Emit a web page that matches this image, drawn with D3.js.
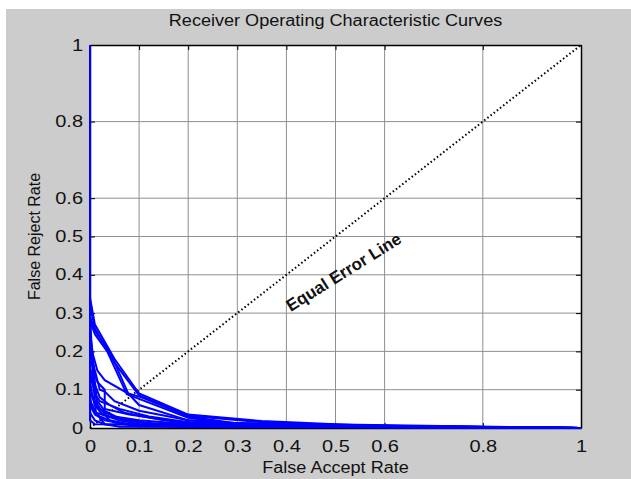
<!DOCTYPE html>
<html>
<head>
<meta charset="utf-8">
<script src="https://cdn.jsdelivr.net/npm/d3@7"></script>
<style>
  body { margin: 0; background: #fff; }
  text { font-family: Arial, "Liberation Sans", sans-serif; fill: #111; }
</style>
</head>
<body>
<svg width="631" height="479"></svg>
<script>
// tick values
var xTicks = [0, 0.1, 0.2, 0.3, 0.4, 0.5, 0.6, 0.8, 1];
var yTicks = [0, 0.1, 0.2, 0.3, 0.4, 0.5, 0.6, 0.8, 1];

// ROC curves, each a list of [false accept rate, false reject rate]
var curve1 = [[0, 1], [0, 0.34], [0.01, 0.27], [0.05, 0.18], [0.1, 0.09], [0.2, 0.035], [0.35, 0.018], [0.5, 0.01], [0.65, 0.002], [1, 0]];
var curve2 = [[0, 1], [0, 0.32], [0.01, 0.26], [0.05, 0.17], [0.1, 0.085], [0.2, 0.032], [0.35, 0.015], [0.5, 0.008], [0.6, 0.003], [1, 0]];
var curve3 = [[0, 1], [0, 0.29], [0.012, 0.25], [0.04, 0.2], [0.078, 0.09], [0.105, 0.08], [0.2, 0.03], [0.3, 0.012], [0.5, 0.004], [1, 0]];
var curve4 = [[0, 1], [0, 0.28], [0.01, 0.245], [0.035, 0.2], [0.075, 0.088], [0.1, 0.076], [0.2, 0.027], [0.3, 0.01], [1, 0]];
var curve5 = [[0, 1], [0, 0.22], [0.015, 0.15], [0.03, 0.125], [0.078, 0.09], [0.1, 0.06], [0.2, 0.02], [0.3, 0.008], [1, 0]];
var curve6 = [[0, 1], [0, 0.2], [0.02, 0.1], [0.03, 0.095], [0.05, 0.07], [0.1, 0.045], [0.2, 0.02], [0.4, 0.005], [1, 0]];
var curve7 = [[0, 1], [0, 0.18], [0.015, 0.12], [0.03, 0.1], [0.03, 0.05], [0.08, 0.035], [0.2, 0.012], [1, 0]];
var curve8 = [[0, 1], [0, 0.15], [0.01, 0.09], [0.02, 0.07], [0.06, 0.05], [0.12, 0.03], [0.2, 0.015], [1, 0]];
var curve9 = [[0, 1], [0, 0.12], [0.005, 0.08], [0.02, 0.05], [0.05, 0.03], [0.1, 0.02], [0.2, 0.01], [1, 0]];
var curve10 = [[0, 1], [0, 0.1], [0.01, 0.06], [0.03, 0.04], [0.07, 0.02], [0.15, 0.008], [1, 0]];
var curve11 = [[0, 1], [0, 0.08], [0.005, 0.05], [0.02, 0.03], [0.05, 0.015], [0.1, 0.005], [1, 0]];
var curve12 = [[0, 1], [0, 0.06], [0.01, 0.035], [0.03, 0.02], [0.08, 0.008], [1, 0]];
var curve13 = [[0, 1], [0, 0.25], [0.005, 0.2], [0.01, 0.12], [0.015, 0.06], [0.04, 0.02], [0.1, 0.005], [1, 0]];
var curve14 = [[0, 1], [0, 0.3], [0.003, 0.22], [0.008, 0.1], [0.012, 0.04], [0.03, 0.01], [1, 0]];
var curve15 = [[0, 1], [0, 0.16], [0.005, 0.13], [0.02, 0.08], [0.04, 0.06], [0.07, 0.04], [0.15, 0.02], [0.3, 0.005], [1, 0]];
var curve16 = [[0, 1], [0, 0.04], [0.01, 0.02], [0.03, 0.01], [0.06, 0.003], [1, 0]];
var curve17 = [[0, 1], [0, 0.02], [0.01, 0.01], [1, 0]];
var curve18 = [[0, 1], [0, 0.14], [0.008, 0.1], [0.015, 0.07], [0.03, 0.045], [0.06, 0.025], [0.12, 0.012], [1, 0]];
var curve19 = [[0, 1], [0, 0.11], [0.004, 0.09], [0.01, 0.06], [0.025, 0.035], [0.06, 0.02], [0.1, 0.01], [1, 0]];
var curve20 = [[0, 1], [0, 0.07], [0.005, 0.06], [0.012, 0.04], [0.04, 0.03], [0.1, 0.015], [0.2, 0.005], [1, 0]];

var curves = [curve1, curve2, curve3, curve4, curve5, curve6, curve7, curve8, curve9, curve10,
    curve11, curve12, curve13, curve14, curve15, curve16, curve17, curve18, curve19, curve20];

var svg = d3.select("svg");

svg.append("rect")
    .attr("x", 6).attr("y", 9)
    .attr("width", 625).attr("height", 470)
    .attr("fill", "#cccccc");

var margin = {top: 45, right: 50, bottom: 51, left: 90},
    width = 631 - margin.left - margin.right,
    height = 479 - margin.top - margin.bottom;

// the picture is a bit wider than tall, text looks stretched sideways
var sx = 1.13, tickSx = 1.25;

var x = d3.scaleLinear().domain([0, 1]).range([0, width]),
    y = d3.scaleLinear().domain([0, 1]).range([height, 0]);

var g = svg.append("g")
    .attr("transform", "translate(" + margin.left + "," + margin.top + ")");

g.append("rect")
    .attr("width", width).attr("height", height)
    .attr("fill", "#fff");

// grid
g.append("g")
    .selectAll("line")
    .data(xTicks.filter(function (d) { return d > 0 && d < 1; }))
    .enter().append("line")
    .attr("x1", function (d) { return x(d); })
    .attr("x2", function (d) { return x(d); })
    .attr("y1", 0).attr("y2", height)
    .attr("stroke", "#8f8f8f")
    .attr("stroke-width", 1);

g.append("g")
    .selectAll("line")
    .data(yTicks.filter(function (d) { return d > 0 && d < 1; }))
    .enter().append("line")
    .attr("y1", function (d) { return y(d); })
    .attr("y2", function (d) { return y(d); })
    .attr("x1", 0).attr("x2", width)
    .attr("stroke", "#8f8f8f")
    .attr("stroke-width", 1);

// axes, ticks pointing inward
var fmt = function (d) { return d === 0 || d === 1 ? d3.format("d")(d) : d3.format(".1f")(d); };

var xAxis = g.append("g")
    .attr("class", "axis axis--x")
    .attr("transform", "translate(0," + height + ")")
    .call(d3.axisBottom(x).tickValues(xTicks).tickFormat(fmt).tickSizeInner(-5).tickSizeOuter(0).tickPadding(13));

var yAxis = g.append("g")
    .attr("class", "axis axis--y")
    .call(d3.axisLeft(y).tickValues(yTicks).tickFormat(fmt).tickSizeInner(-5).tickSizeOuter(0).tickPadding(7));

g.append("g")
    .call(d3.axisTop(x).tickValues(xTicks).tickFormat("").tickSizeInner(-5).tickSizeOuter(0));

g.append("g")
    .attr("transform", "translate(" + width + ",0)")
    .call(d3.axisRight(y).tickValues(yTicks).tickFormat("").tickSizeInner(-5).tickSizeOuter(0));

g.selectAll(".domain").attr("stroke", "#000").attr("stroke-width", 1.5);
g.selectAll(".tick line").attr("stroke", "#000");
g.selectAll(".tick text")
    .style("font-size", "16px")
    .style("font-family", "Arial, 'Liberation Sans', sans-serif")
    .attr("fill", "#111")
    .attr("transform", "scale(" + tickSx + ",1)");

yAxis.selectAll(".tick text").attr("x", -7 / tickSx);

// equal error line
g.append("line")
    .attr("x1", x(0)).attr("y1", y(0))
    .attr("x2", x(1)).attr("y2", y(1))
    .attr("stroke", "#000")
    .attr("stroke-width", 2)
    .attr("stroke-dasharray", "1.5,2.5");

// curves
var line = d3.line()
    .x(function (d) { return x(d[0]); })
    .y(function (d) { return y(d[1]); });

g.selectAll(".curve")
    .data(curves)
    .enter().append("path")
    .attr("class", "curve")
    .attr("d", line)
    .attr("fill", "none")
    .attr("stroke", "#0000ff")
    .attr("stroke-width", 2);

// labels
g.append("text")
    .attr("transform", "translate(" + x(0.523) + "," + (y(0.41) + 6) + ") rotate(-32)")
    .attr("text-anchor", "middle")
    .style("font-size", "17px")
    .style("font-weight", "bold")
    .text("Equal Error Line");

svg.append("text")
    .attr("transform", "translate(" + (margin.left + width / 2) + ",26) scale(" + sx + ",1)")
    .attr("text-anchor", "middle")
    .style("font-size", "16px")
    .text("Receiver Operating Characteristic Curves");

svg.append("text")
    .attr("transform", "translate(" + (margin.left + width / 2) + ",473) scale(" + sx + ",1)")
    .attr("text-anchor", "middle")
    .style("font-size", "16px")
    .text("False Accept Rate");

svg.append("text")
    .attr("transform", "translate(40," + (margin.top + height / 2) + ") rotate(-90)")
    .attr("text-anchor", "middle")
    .style("font-size", "16px")
    .text("False Reject Rate");
</script>
</body>
</html>
